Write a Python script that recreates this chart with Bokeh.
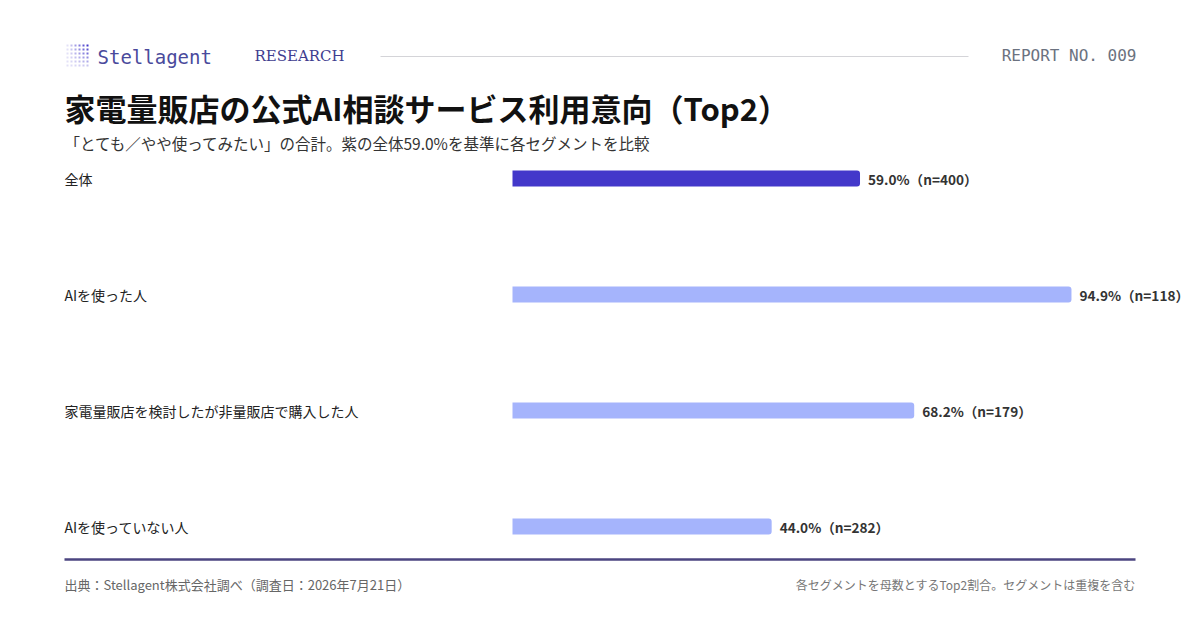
from bokeh.plotting import figure
from bokeh.models import Range1d, ColumnDataSource, Label
from bokeh.core.properties import value
from bokeh.embed import file_html
from bokeh.resources import INLINE

# ---- data ----
categories = ["全体", "AIを使った人", "家電量販店を検討したが非量販店で購入した人", "AIを使っていない人"]
values = [59.0, 94.9, 68.2, 44.0]
n_sizes = [400, 118, 179, 282]
title = "家電量販店の公式AI相談サービス利用意向（Top2）"
subtitle = "「とても／やや使ってみたい」の合計。紫の全体59.0%を基準に各セグメントを比較"
source_note = "出典：Stellagent株式会社調べ（調査日：2026年7月21日）"
right_note = "各セグメントを母数とするTop2割合。セグメントは重複を含む"

W, H = 1200, 630
X0, PXU = 512, 5.89      # pixel of value 0, pixels per percent
Y0, ROW = 178, 116       # pixel of first row centre, pixels per row


def X(px):
    return (px - X0) / PXU


def Y(py):
    return (py - Y0) / ROW


JPF = "Noto Sans CJK JP"
JP = value(JPF)
DARK = "#4338CA"
LIGHT = "#A5B4FC"

p = figure(width=W, height=H, output_backend="svg", toolbar_location=None,
           x_range=Range1d(X(0), X(W)), y_range=Range1d(Y(H), Y(0)),
           x_axis_type=None, y_axis_type=None, min_border=0,
           outline_line_color=None, background_fill_color="white",
           border_fill_color="white")
p.xgrid.visible = False
p.ygrid.visible = False

idx = list(range(len(categories)))
src = ColumnDataSource(dict(
    y=idx,
    v=values,
    cat=categories,
    color=[DARK] + [LIGHT] * (len(categories) - 1),
    lab=[f"{v:.1f}%（n={n}）" for v, n in zip(values, n_sizes)],
    lx=[X(64)] * len(categories),
))

p.hbar(y="y", left=0, right="v", height=16 / ROW, fill_color="color",
       line_color=None, source=src, border_radius=(0, 3, 3, 0))
p.text(x="v", y="y", text="lab", source=src, x_offset=8,
       text_baseline="middle", text_align="left", text_font=JP,
       text_font_size="13.6px", text_font_style="bold", text_color="#333333")
p.text(x="lx", y="y", text="cat", source=src, text_baseline="middle",
       text_align="left", text_font=JP, text_font_size="14px",
       text_color="#222222")

# ---- header ----
for c in range(6):
    for r in range(6):
        strength = (c / 5) * (1 - r / 6)
        alpha = 0.15 + 0.85 * strength
        px, py = 66 + c * 4, 44 + r * 4
        p.quad(left=X(px), right=X(px + 2), top=Y(py), bottom=Y(py + 2),
               fill_color="#4338CA", fill_alpha=alpha, line_color=None)

p.add_layout(Label(x=X(97), y=Y(56), text="Stellagent", text_font="DejaVu Sans Mono",
                   text_font_size="19px", text_color="#4A4A9C", text_baseline="middle"))
p.add_layout(Label(x=X(254), y=Y(55), text="RESEARCH", text_font="DejaVu Serif",
                   text_font_size="15px", text_color="#3F3D8F", text_baseline="middle"))
p.segment(x0=X(380), x1=X(968), y0=Y(56), y1=Y(56), line_color="#D4D4D8", line_width=1)
p.add_layout(Label(x=X(1136), y=Y(55), text="REPORT NO. 009", text_font="DejaVu Sans Mono",
                   text_font_size="16px", text_color="#6B7280", text_baseline="middle",
                   text_align="right"))

p.add_layout(Label(x=X(64), y=Y(107), text=title, text_font=JPF, text_font_size="31px",
                   text_font_style="bold", text_color="#111111", text_baseline="middle"))
p.add_layout(Label(x=X(64), y=Y(142), text=subtitle, text_font=JPF, text_font_size="15.5px",
                   text_color="#333333", text_baseline="middle"))

# ---- footer ----
p.segment(x0=X(64), x1=X(1135), y0=Y(559), y1=Y(559), line_color="#4B4580", line_width=2.5)
p.add_layout(Label(x=X(64), y=Y(584), text=source_note, text_font=JPF, text_font_size="13px",
                   text_color="#666666", text_baseline="middle"))
p.add_layout(Label(x=X(1135), y=Y(584), text=right_note, text_font=JPF, text_font_size="12px",
                   text_color="#777777", text_baseline="middle", text_align="right"))

open("out.html", "w").write(file_html(p, INLINE))
